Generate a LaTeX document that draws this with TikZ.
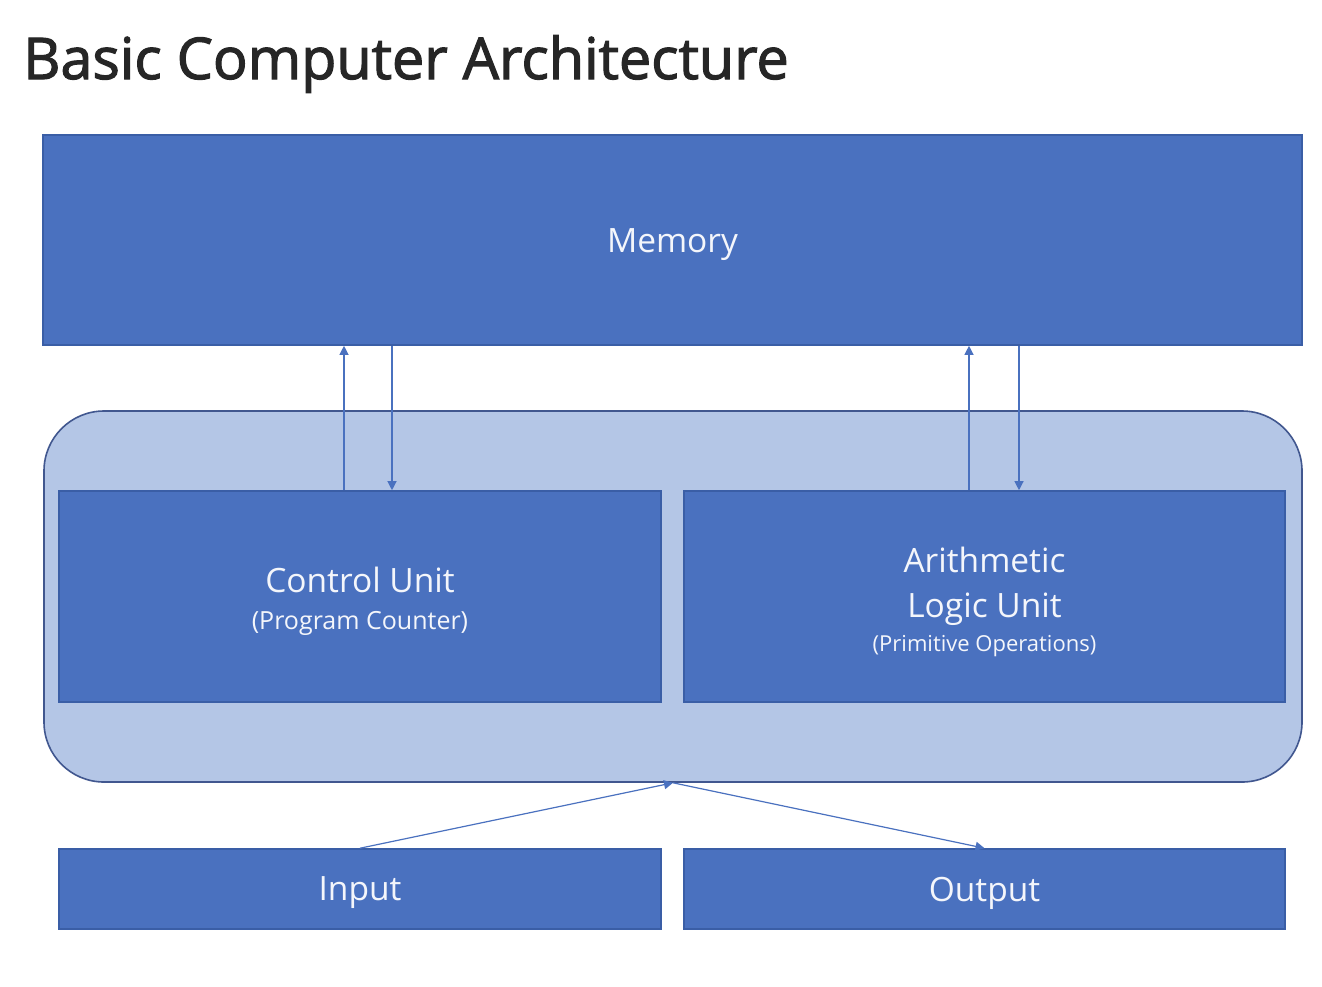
\documentclass[tikz,border=0pt]{standalone}
\usepackage{fontspec}
\setmainfont{Open Sans}
\newfontfamily\titlefont[FakeBold=2]{Open Sans}
\usetikzlibrary{arrows.meta,calc}
\definecolor{boxblue}{HTML}{4A71BF}
\definecolor{boxedge}{HTML}{3A5EA6}
\definecolor{outerfill}{HTML}{B4C6E6}
\definecolor{outeredge}{HTML}{41578F}
\definecolor{titlecol}{HTML}{262626}
\definecolor{txtcol}{HTML}{F4F6FB}
\newcommand{\lowr}[2]{\raisebox{-#1pt}[\height][\depth]{#2}}
\begin{document}
\begin{tikzpicture}[x=1pt,y=-1pt,
  bluebox/.style={draw=boxedge,line width=1.6pt,fill=boxblue,inner sep=0pt,
    text=txtcol,align=center,font=\fontsize{33.5}{40}\selectfont},
  outerbox/.style={draw=outeredge,line width=1.6pt,fill=outerfill,rounded corners=60pt,inner sep=0pt},
  arr/.style={draw=boxblue,line width=1.2pt,-{Triangle[length=9pt,width=9pt]}}
]
\useasboundingbox (0,0) rectangle (1322,986);
\fill[white] (0,0) rectangle (1322,986);
\node[anchor=base west,text=titlecol,font=\fontsize{57.5}{68}\titlefont,inner sep=0pt] (title) at (23,79) {Basic Computer Architecture};
\node[bluebox,minimum width=1259pt,minimum height=210pt] (mem) at (672.5,240) {\lowr{5}{Memory}};
\node[outerbox,minimum width=1258pt,minimum height=371pt] (cpu) at (673,596.5) {};
\node[bluebox,minimum width=602pt,minimum height=211pt] (cu) at (360,596.5) {\lowr{5}{Control Unit}\\[-2pt]{\fontsize{25}{30}\selectfont\lowr{4}{(Program Counter)}}};
\node[bluebox,minimum width=601pt,minimum height=211pt] (alu) at (984.5,596.5) {\lowr{2}{Arithmetic}\\[2pt]{\lowr{5}{Logic Unit}}\\[-10pt]{\fontsize{22}{26}\selectfont\lowr{9}{(Primitive Operations)}}};
\node[bluebox,minimum width=602pt,minimum height=80pt] (in) at (360,889) {\lowr{4}{Input}};
\node[bluebox,minimum width=601pt,minimum height=80pt] (out) at (984.5,889) {\lowr{4}{Output}};
\coordinate (x1) at (344,0);
\coordinate (x2) at (392,0);
\coordinate (x3) at (969,0);
\coordinate (x4) at (1019,0);
\draw[arr] (cu.north -| x1) -- (mem.south -| x1);
\draw[arr] (mem.south -| x2) -- (cu.north -| x2);
\draw[arr] (alu.north -| x3) -- (mem.south -| x3);
\draw[arr] (mem.south -| x4) -- (alu.north -| x4);
\draw[arr] (in.north) -- (cpu.south);
\draw[arr] (cpu.south) -- (out.north);
\end{tikzpicture}
\end{document}
